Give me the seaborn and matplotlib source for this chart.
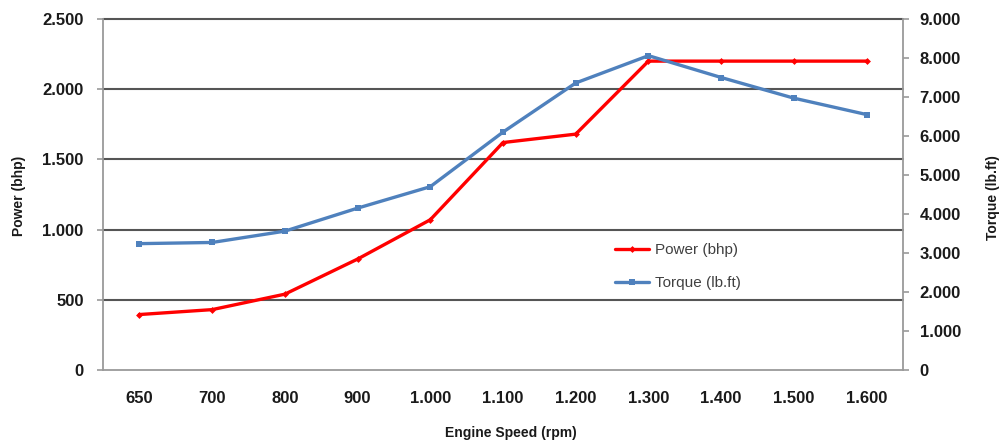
import matplotlib
matplotlib.use("Agg")
import matplotlib.pyplot as plt
from matplotlib.ticker import FuncFormatter, MultipleLocator
import pandas as pd
import seaborn as sns

# Engine speed categories (rpm) and measured curves
rpm_labels = ["650", "700", "800", "900", "1.000", "1.100", "1.200",
              "1.300", "1.400", "1.500", "1.600"]
power_bhp = [395, 430, 540, 790, 1070, 1620, 1680, 2200, 2200, 2200, 2200]
torque_lbft = [3240, 3270, 3560, 4150, 4700, 6100, 7360, 8060, 7500, 6970, 6550]

df = pd.DataFrame({"rpm": rpm_labels, "power": power_bhp, "torque": torque_lbft})

sns.set_theme(style="white")
plt.rcParams["font.family"] = ["Liberation Sans", "DejaVu Sans"]

RED = "#FF0000"
BLUE = "#4F81BD"
GRID = "#555555"
SPINE = "#9A9A9A"

fig = plt.figure(figsize=(10.03, 4.44), dpi=100)
ax = fig.add_axes([103 / 1003, 74 / 444, 800 / 1003, 351 / 444])
ax2 = ax.twinx()

sns.lineplot(data=df, x="rpm", y="power", ax=ax, sort=False, color=RED,
             linewidth=2.4, marker="D", markersize=3.5, markeredgewidth=0,
             label="Power (bhp)", legend=False)
sns.lineplot(data=df, x="rpm", y="torque", ax=ax2, sort=False, color=BLUE,
             linewidth=2.4, marker="s", markersize=5, markeredgewidth=0,
             label="Torque (lb.ft)", legend=False)

thousands = FuncFormatter(lambda v, p: f"{int(round(v)):,}".replace(",", "."))

ax.set_xlim(-0.5, len(rpm_labels) - 0.5)
ax.set_ylim(0, 2500)
ax.yaxis.set_major_locator(MultipleLocator(500))
ax.yaxis.set_major_formatter(thousands)
ax2.set_ylim(0, 9000)
ax2.yaxis.set_major_locator(MultipleLocator(1000))
ax2.yaxis.set_major_formatter(thousands)

# horizontal gridlines following the power axis
ax.grid(False)
ax2.grid(False)
for v in range(500, 2501, 500):
    ax.axhline(v, color=GRID, linewidth=1.5, zorder=0.5, clip_on=False)

for a in (ax, ax2):
    a.spines["top"].set_visible(False)
    for side in ("left", "right", "bottom"):
        a.spines[side].set_color(SPINE)
        a.spines[side].set_linewidth(1.3)
ax.spines["right"].set_visible(False)
ax2.spines["left"].set_visible(False)
ax2.spines["bottom"].set_visible(False)

ax.tick_params(axis="x", length=0, pad=15)
ax.tick_params(axis="y", left=True, length=4, width=1.2, color=SPINE, pad=10)
ax2.tick_params(axis="y", right=True, length=4, width=1.2, color=SPINE, pad=8)
for lbl in ax.get_xticklabels() + ax.get_yticklabels() + ax2.get_yticklabels():
    lbl.set_fontsize(12)
    lbl.set_fontweight("bold")
    lbl.set_color("#1a1a1a")

label_font = dict(fontsize=10, fontweight="bold", color="#1a1a1a")
ax.set_xlabel("Engine Speed (rpm)", va="center", **label_font)
ax.xaxis.set_label_coords(0.51, -0.179)
ax.set_ylabel("Power (bhp)", va="center", **label_font)
ax.yaxis.set_label_coords(-0.105, 0.496)
ax2.set_ylabel("Torque (lb.ft)", va="center", rotation=90, **label_font)
ax2.yaxis.set_label_coords(1.1125, 0.49)

handles = ax.get_lines()[:1] + ax2.get_lines()[:1]
leg = fig.legend(handles, [h.get_label() for h in handles],
                 loc="upper left", bbox_to_anchor=(615 / 1003, 1 - 243 / 444),
                 frameon=False, fontsize=11, handlelength=2.2,
                 handletextpad=0.4, labelspacing=1.25, borderpad=0,
                 borderaxespad=0)
for t in leg.get_texts():
    t.set_color("#404040")

fig.savefig("out.png", dpi=100)
